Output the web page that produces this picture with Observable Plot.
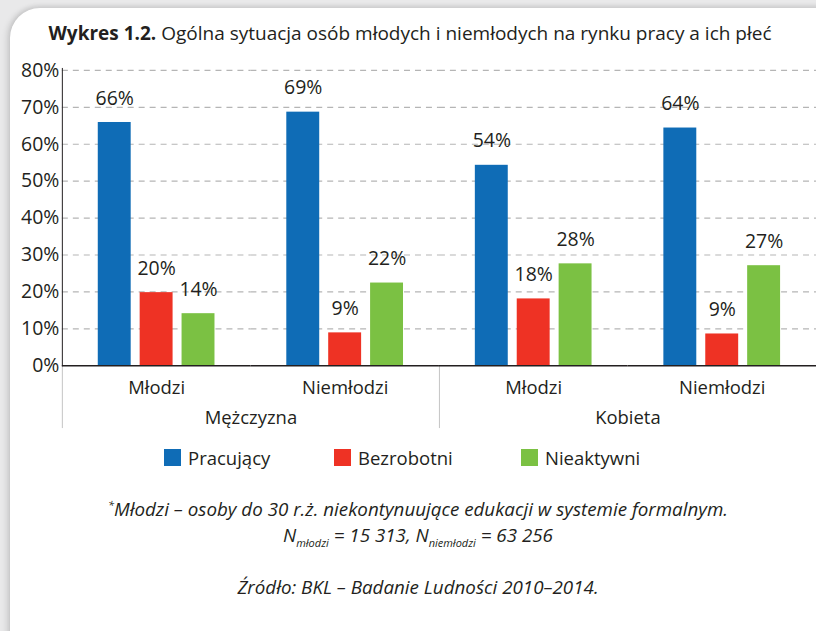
<!DOCTYPE html>
<html>
<head>
<meta charset="utf-8">
<script src="https://cdn.jsdelivr.net/npm/d3@7"></script>
<script src="https://cdn.jsdelivr.net/npm/@observablehq/plot@0.6"></script>
<style>
  html, body { margin: 0; padding: 0; width: 816px; height: 631px; overflow: hidden; background: #e9e9ea; }
  body { position: relative; font-family: "Open Sans", sans-serif; color: #231f20; }
  #card { position: absolute; left: 10px; top: 8px; width: 850px; height: 660px; background: #fff; border-radius: 30px; box-shadow: -3px 0 6px rgba(0,0,0,0.12), 0 -2px 5px rgba(0,0,0,0.08); }
  #title { position: absolute; left: 0; width: 820px; top: 20px; text-align: center; font-size: 19px; white-space: nowrap; }
  #chart { position: absolute; left: 0; top: 50px; }
  #legend { position: absolute; left: 0; top: 448px; width: 816px; height: 24px; }
  .li { position: absolute; top: 0; font-size: 18.5px; line-height: 22px; white-space: nowrap; }
  .sw { position: absolute; left: 0; top: 1px; width: 17px; height: 17px; }
  .lt { position: absolute; left: 24px; top: -1px; }
  .note { position: absolute; left: 0; width: 836px; text-align: center; font-style: italic; font-size: 18.8px; white-space: nowrap; }
  sub { font-size: 11px; vertical-align: -5px; }
  sup { font-size: 11px; vertical-align: 7px; }
</style>
</head>
<body>
<div id="card"></div>
<div id="title"><b>Wykres 1.2.</b> Ogólna sytuacja osób młodych i niemłodych na rynku pracy a ich płeć</div>
<div id="chart"></div>
<div id="legend"></div>
<div class="note" style="top:496px"><sup>*</sup>Młodzi – osoby do 30 r.ż. niekontynuujące edukacji w systemie formalnym.</div>
<div class="note" style="top:522px">N<sub>młodzi</sub> = 15 313, N<sub>niemłodzi</sub> = 63 256</div>
<div class="note" style="top:574px">Źródło: BKL – Badanie Ludności 2010–2014.</div>
<script>
// ---- data ----
const genders = ["Mężczyzna", "Kobieta"];
const ageGroups = ["Młodzi", "Niemłodzi"];
const statuses = ["Pracujący", "Bezrobotni", "Nieaktywni"];
const colors = ["#0f6cb6", "#ee3224", "#7bc143"];
// order: Mężczyzna-Młodzi, Mężczyzna-Niemłodzi, Kobieta-Młodzi, Kobieta-Niemłodzi
const pracujacy = [65.9, 68.7, 54.3, 64.4];
const bezrobotni = [19.8, 8.9, 18.1, 8.6];
const nieaktywni = [14.1, 22.4, 27.6, 27.1];
const yTicks = [0, 10, 20, 30, 40, 50, 60, 70, 80];

const seriesValues = [pracujacy, bezrobotni, nieaktywni];
const rows = [];
genders.forEach((g, gi) => ageGroups.forEach((a, ai) => {
  const i = gi * 2 + ai;
  statuses.forEach((s, si) => rows.push({group: `${g}|${a}`, gender: g, age: a, status: s, value: seriesValues[si][i]}));
}));
const groupKeys = genders.flatMap(g => ageGroups.map(a => `${g}|${a}`));

const marginTop = 20, marginBottom = 70, height = 386;
const frameH = height - marginTop - marginBottom;

const chart = Plot.plot({
  width: 818,
  height,
  marginLeft: 62,
  marginRight: 0,
  marginTop,
  marginBottom,
  style: {fontFamily: "Open Sans, sans-serif", fontSize: "18px", color: "#231f20", background: "transparent", overflow: "visible"},
  fx: {domain: groupKeys, padding: 0, label: null, axis: null},
  x: {domain: statuses, paddingInner: 0.214, paddingOuter: 0.857, axis: null},
  y: {domain: [0, 80], label: null},
  color: {domain: statuses, range: colors},
  marks: [
    Plot.gridY(yTicks.filter(d => d > 0), {stroke: "#b5b5b5", strokeOpacity: 1, strokeDasharray: "6,5", strokeWidth: 1.2}),
    Plot.axisY({ticks: yTicks, tickFormat: d => d + "%", tickSize: 0, tickPadding: 3, fontSize: 19.5, label: null}),
    Plot.axisFx({anchor: "bottom", tickFormat: d => d.split("|")[1], tickSize: 0, tickPadding: 15, fontSize: 18.5, label: null}),
    Plot.frame({fx: "Mężczyzna|Młodzi", anchor: "left", stroke: "#c4c4c4", insetTop: frameH, insetBottom: -62}),
    Plot.frame({fx: "Kobieta|Młodzi", anchor: "left", stroke: "#c4c4c4", insetTop: frameH, insetBottom: -62}),
    Plot.frame({fx: "Mężczyzna|Młodzi", anchor: "left", stroke: "#231f20", insetTop: -2}),
    Plot.barY(rows, {fx: "group", x: "status", y: "value", fill: "status"}),
    Plot.ruleY([0], {stroke: "#231f20", strokeWidth: 1.5}),
    Plot.text(rows, {fx: "group", x: "status", y: "value", text: d => Math.round(d.value) + "%", lineAnchor: "bottom", dy: -18, fontSize: 19.5, fill: "#231f20"}),
    Plot.text(genders, {fx: g => `${g}|Młodzi`, text: d => d, frameAnchor: "bottom-right", textAnchor: "middle", lineAnchor: "middle", dy: 53, fontSize: 18.5, fill: "#231f20"})
  ]
});
document.getElementById("chart").appendChild(chart);

// legend
const legend = document.getElementById("legend");
const legendX = [164, 334, 521];
statuses.forEach((s, i) => {
  const el = document.createElement("div");
  el.className = "li";
  el.style.left = legendX[i] + "px";
  el.innerHTML = `<div class="sw" style="background:${colors[i]}"></div><span class="lt">${s}</span>`;
  legend.appendChild(el);
});
</script>
</body>
</html>
